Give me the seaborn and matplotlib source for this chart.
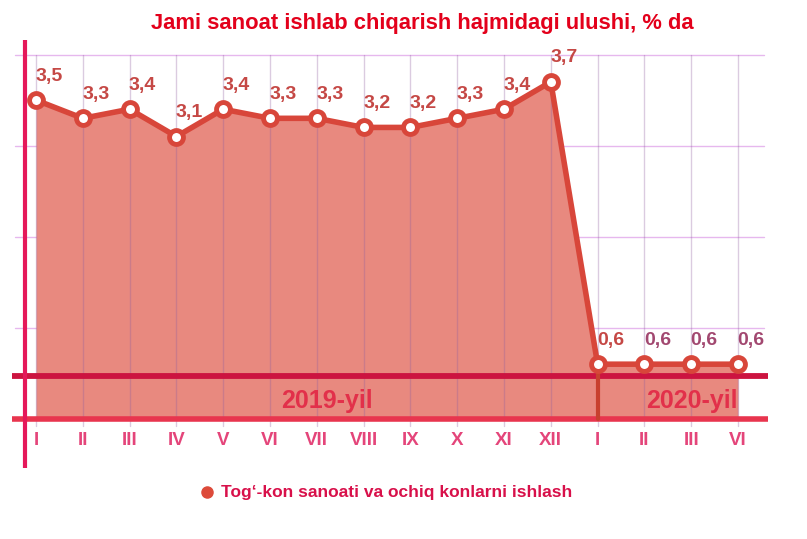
import matplotlib
matplotlib.use("Agg")
import matplotlib.pyplot as plt
from matplotlib.lines import Line2D
import seaborn as sns
import numpy as np
import pandas as pd

months = ["I", "II", "III", "IV", "V", "VI", "VII", "VIII", "IX", "X", "XI", "XII",
          "I", "II", "III", "VI"]
values = [3.5, 3.3, 3.4, 3.1, 3.4, 3.3, 3.3, 3.2, 3.2, 3.3, 3.4, 3.7,
          0.6, 0.6, 0.6, 0.6]
year_labels = ["2019-yil", "2020-yil"]
title = "Jami sanoat ishlab chiqarish hajmidagi ulushi, % da"
legend_label = "Tog\u2018-kon sanoati va ochiq konlarni ishlash"

sns.set_theme(style="white")
plt.rcParams['font.family'] = ['Liberation Sans', 'DejaVu Sans']

df = pd.DataFrame({"pos": np.arange(len(values)), "value": values})

W, H = 807, 539
fig = plt.figure(figsize=(W / 100, H / 100), dpi=100)
ax = fig.add_axes([12 / W, 1 - 468 / H, (768 - 12) / W, (468 - 40) / H])
px = 46.8
xlo, xhi = -24 / px, 15 + 30 / px
ylo, yhi = -0.54, 4.16

line_c = "#D8463A"
fill_c = "#E8897F"
grid_c = "#E6B8EE"

# horizontal gridlines
for g in [1, 2, 3, 4]:
    ax.plot([-21 / px, 15 + 26 / px], [g, g], color=grid_c, lw=1.0, zorder=1)

# area fill
ax.fill_between(df["pos"], 0, df["value"], color=fill_c, zorder=2, lw=0)

# vertical gridlines
for p in df["pos"]:
    ax.plot([p, p], [-0.08, 4], color="#9060A0", alpha=0.32, lw=1.0, zorder=3)

# year band lines
ax.plot([xlo, xhi], [0.47, 0.47], color="#CC1440", lw=4.2, zorder=4,
        solid_capstyle="butt")
ax.plot([xlo, xhi], [0, 0], color="#E8354E", lw=4.0, zorder=4,
        solid_capstyle="butt")
# divider at 2020 start
ax.plot([12, 12], [0, values[12]], color="#C8402E", lw=3.0, zorder=4)

# main line + markers
sns.lineplot(data=df, x="pos", y="value", ax=ax, color=line_c, lw=4.0,
             marker="o", markersize=10, markerfacecolor="white",
             markeredgecolor=line_c, markeredgewidth=3.5, zorder=6,
             legend=False)
ax.axis("off")
ax.set_xlim(xlo, xhi)
ax.set_ylim(ylo, yhi)

# value labels
for i, v in enumerate(values):
    c = "#C54845" if i < 13 else "#A24870"
    ax.annotate(f"{v:.1f}".replace(".", ","), (i, v), xytext=(13, 24),
                textcoords="offset pixels", ha="center", va="center",
                fontsize=14, fontweight="bold", color=c, zorder=7)

# year labels
ax.text(7.2, 0.2, year_labels[0], ha="right", va="center", fontsize=18,
        fontweight="bold", color="#E2304A", zorder=7)
ax.text(15.0, 0.2, year_labels[1], ha="right", va="center", fontsize=18,
        fontweight="bold", color="#E2304A", zorder=7)

# month tick labels
for i, m in enumerate(months):
    ax.text(i, -0.24, m, ha="center", va="center", fontsize=13.5,
            fontweight="bold", color="#E4457A", zorder=7)

# left magenta axis
ax.plot([-11 / px, -11 / px], [ylo, yhi], color="#E5185A", lw=3.0,
        zorder=8, clip_on=False, solid_capstyle="butt")

# title
fig.text(422 / W, 1 - 24 / H, title, ha="center", va="center", fontsize=15.8,
         fontweight="bold", color="#E3001B")

# legend
fig.add_artist(Line2D([207 / W], [1 - 492 / H], marker="o", markersize=8,
                      color="#DD4A3A", transform=fig.transFigure, lw=0))
fig.text(221 / W, 1 - 492 / H, legend_label, ha="left", va="center",
         fontsize=12.5, fontweight="bold", color="#D8104A")

fig.savefig("out.png", dpi=100)
